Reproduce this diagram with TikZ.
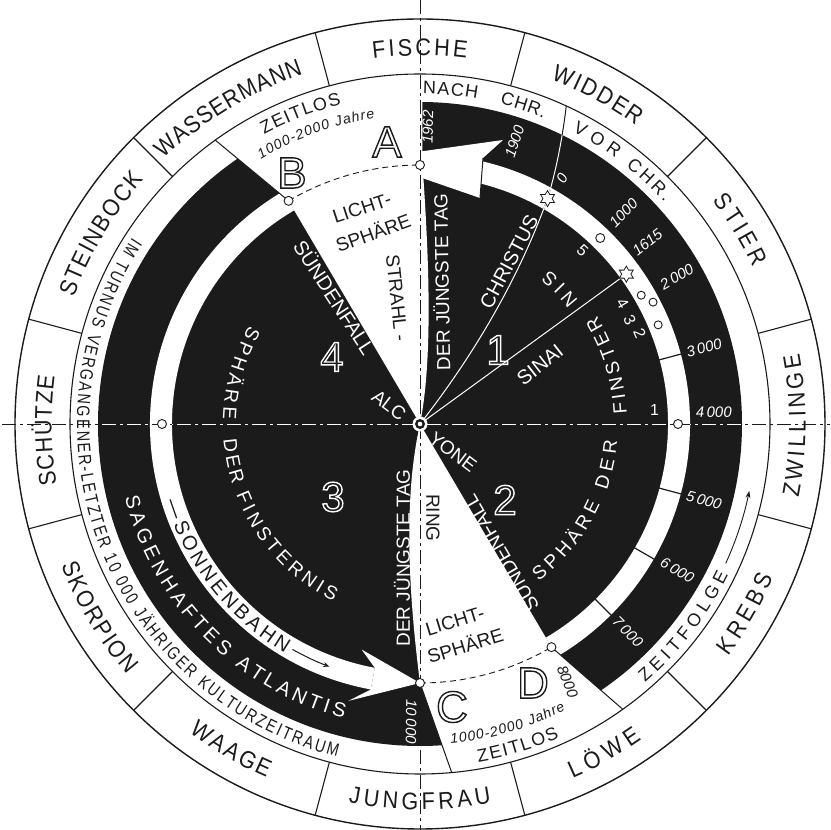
\documentclass[tikz,border=0pt]{standalone}
\usepackage{fontspec}
\setmainfont{Liberation Sans}
\newfontfamily\condfont{Liberation Sans}[FakeStretch=0.8]
\newfontfamily\zodfont{Liberation Sans}[FakeStretch=0.9]
\usetikzlibrary{decorations.text,shapes.geometric,arrows.meta}
\definecolor{ink}{HTML}{1B1B1B}
\newcommand\outl[1]{\special{pdf:literal direct 1 Tr 1.4 w}#1\special{pdf:literal direct 0 Tr}}
\newcommand\arctext[5]{\path[decorate,decoration={text along path,text align={fit to path},text={|#1|#2}}] (#3:#5) arc[start angle=#3,end angle=#4,radius=#5];}
\newcommand\zodf{\zodfont\fontsize{24}{24}\selectfont\color{ink}}
\newcommand\ringf{\fontsize{18}{18}\selectfont\color{ink}}
\newcommand\longf{\condfont\fontsize{18}{18}\selectfont\color{ink}}
\newcommand\darkf{\fontsize{20}{20}\selectfont\color{white}}
\newcommand\bandf{\fontsize{20}{20}\selectfont\color{ink}}
\newcommand\innerwf{\fontsize{19}{19}\selectfont\color{white}}
\newcommand\jahref{\itshape\fontsize{14}{14}\selectfont\color{ink}}
\tikzset{
  markc/.style={circle,draw=ink,fill=white,line width=0.9pt,minimum size=9pt,inner sep=0pt},
  hexstar/.style={star,star points=6,star point ratio=1.732,draw=ink,fill=white,line width=0.8pt,minimum size=16pt,inner sep=0pt},
  axisline/.style={line width=0.9pt,dash pattern=on 14pt off 4pt on 3pt off 4pt},
  wtxt/.style={text=white,font=\fontsize{19}{19}\selectfont,inner sep=0pt},
  btxt/.style={text=ink,font=\fontsize{19}{19}\selectfont,inner sep=0pt},
  datetxt/.style={text=white,font=\itshape\fontsize{15}{15}\selectfont,inner sep=0pt},
  numtxt/.style={text=white,font=\fontsize{16}{16}\selectfont,inner sep=0pt},
  bigletter/.style={text=ink,font=\fontsize{44}{44}\selectfont,inner sep=0pt},
  bignum/.style={text=white,font=\fontsize{42}{42}\selectfont,inner sep=0pt},
  edgeline/.style={draw=ink,line width=1pt},
}
\begin{document}
\begin{tikzpicture}[x=1pt,y=1pt]
\useasboundingbox (0,0) rectangle (831,830);
\fill[white] (0,0) rectangle (831,830);
\begin{scope}[shift={(420,406)}]
\coordinate (O) at (0,0);
\coordinate (A) at (90:259);
\coordinate (B) at (120.5:259);
\coordinate (C) at (270:259);
\coordinate (D) at (-59.5:259);
\coordinate (PA) at (89.6:350);
\coordinate (PB) at (125.8:350);
\coordinate (PC) at (-84.8:350);
\coordinate (PD) at (-54.6:350);
\coordinate (Aedge) at (2.5,259);
\coordinate (Xs) at (60.5:259);
\coordinate (Ss) at (36:255);
\coordinate (Xe) at (65.3:350);
% dark disk
\fill[ink] (O) circle (322);
% light spheres
\fill[white] (O) -- (B) -- (PB) arc[start angle=125.8,end angle=89.6,radius=350] -- (Aedge) .. controls (8,180) and (14,70) .. (O) -- cycle;
\fill[white] (O) .. controls (-18,-80) and (-10,-180) .. (C) -- (PC) arc[start angle=-84.8,end angle=-54.6,radius=350] -- (PD) -- (D) -- cycle;
% sun path bands
\fill[white] (120.5:248) arc[start angle=120.5,end angle=259.5,radius=248] -- (259.5:270) arc[start angle=259.5,end angle=120.5,radius=270] -- cycle;
\fill[white] (-59.5:248) arc[start angle=-59.5,end angle=76.7,radius=248] -- (76.7:270) arc[start angle=76.7,end angle=-59.5,radius=270] -- cycle;
% arrow heads
\coordinate (Atip) at (-53,265);
\coordinate (Aub) at (83,284);
\coordinate (Anotch) at (63,266);
\coordinate (Alb) at (60,226);
\fill[white] (Atip) -- (Aub) -- (Anotch) -- (Alb) -- cycle;
\draw[ink,line width=1pt] (Anotch) -- (Alb);
\coordinate (Cub) at (255.5:233);
\coordinate (Clb) at (255.5:286);
\coordinate (Cin) at (259.5:248);
\coordinate (Cout) at (259.5:270);
\fill[white] (Cin) -- (Cub) -- (C) -- (Clb) -- (Cout) -- cycle;
% boundary lines
\draw[edgeline] (B) -- (PB);
\draw[edgeline] (C) -- (PC);
\draw[edgeline] (D) -- (PD);
% Christus curve
\draw[ink,line width=1pt] (O) .. controls (53.6,68.6) and (98.2,144.2) .. (Xs) .. controls (136.6,254.3) and (143,290) .. (Xe);
\begin{scope}
\clip (O) circle (322);
\draw[white,line width=1pt] (O) .. controls (53.6,68.6) and (98.2,144.2) .. (Xs) .. controls (136.6,254.3) and (143,290) .. (Xe);
\end{scope}
% Sinai
\draw[white,line width=1pt] (O) -- (Ss);
% axes
\coordinate (VT) at (0,424);
\coordinate (VB) at (0,-406);
\coordinate (HL) at (-418,0);
\coordinate (HR) at (410,0);
\draw[ink,axisline] (VT) -- (VB);
\draw[ink,axisline] (HL) -- (HR);
\begin{scope}
\clip (O) circle (248);
\draw[white,axisline] (HL) -- (HR);
\end{scope}
\begin{scope}
\clip (322,0) arc[start angle=0,end angle=360,radius=322] -- (270,0) arc[start angle=360,end angle=0,radius=270] -- cycle;
\draw[white,axisline] (HL) -- (HR);
\end{scope}
% dashed arcs
\draw[ink,line width=0.9pt,dash pattern=on 6pt off 4pt] (B) arc[start angle=120.5,end angle=90,radius=259];
\draw[ink,line width=0.9pt,dash pattern=on 6pt off 4pt] (C) arc[start angle=270,end angle=300.5,radius=259];
% ticks
\foreach \a in {15,-15,-30,-45} \draw[ink,line width=1.2pt] (\a:247) -- (\a:271);
% zodiac ring
\draw[ink,line width=1.4pt] (O) circle (405);
\draw[ink,line width=1.1pt] (O) circle (350);
\foreach \a in {15,45,...,345} \draw[ink,line width=1.1pt] (\a:350) -- (\a:405);
% markers
\node[markc] (mA) at (A) {};
\node[markc] (mB) at (B) {};
\node[markc] (mC) at (C) {};
\node[markc] (mD) at (D) {};
\node[markc] (mL) at (180:258) {};
\node[markc] (mR) at (0:258) {};
\node[markc] (m5) at (45.9:259) {};
\node[markc,minimum size=8pt] (m4) at (30.2:256) {};
\node[markc,minimum size=8pt] (m3) at (27.6:263) {};
\node[markc,minimum size=8pt] (m2) at (22.6:258) {};
\node[hexstar] (sX) at (Xs) {};
\node[hexstar] (sS) at (Ss) {};
% centre
\fill[white] (O) circle (7.5);
\fill[ink] (O) circle (5);
\fill[white] (O) circle (2.3);
% zodiac labels
\arctext{\zodf}{FISCHE}{97.3}{82.7}{368.4}
\arctext{\zodf}{WIDDER}{69.2}{54}{368.4}
\arctext{\zodf}{STIER}{37.4}{25.1}{368.4}
\arctext{\zodf}{ZWILLINGE}{-11}{10.5}{385.6}
\arctext{\zodf}{KREBS}{-37}{-23.4}{385.6}
\arctext{\zodf}{LÖWE}{-66.7}{-54.9}{385.6}
\arctext{\zodf}{JUNGFRAU}{-100.7}{-79.3}{385.6}
\arctext{\zodf}{WAAGE}{233.2}{246.6}{385.6}
\arctext{\zodf}{SKORPION}{201.5}{220.6}{385.6}
\arctext{\zodf}{SCHÜTZE}{189.5}{172.5}{368.4}
\arctext{\zodf}{STEINBOCK}{160}{138.5}{368.4}
\arctext{\zodf}{WASSERMANN}{134}{108.5}{368.4}
% ring texts
\arctext{\ringf}{NACH}{89.5}{80}{330}
\arctext{\ringf}{CHR.}{76}{68}{330}
\arctext{\ringf}{VOR}{62.5}{53.6}{330}
\arctext{\ringf}{CHR.}{51.4}{42.2}{330}
\arctext{\ringf}{ZEITLOS}{118.3}{103.8}{329}
\arctext{\ringf}{ZEITLOS}{-80.2}{-66}{343}
\arctext{\ringf}{ZEITFOLGE}{-49}{-26}{343}
\draw[ink,line width=0.9pt,-{Stealth[length=7pt,width=5pt]}] (-24.5:336) arc[start angle=-24.5,end angle=-11.5,radius=336];
\arctext{\longf}{IM TURNUS VERGANGENER-LETZTER 10 000 JÄHRIGER KULTURZEITRAUM}{147}{256}{343}
\arctext{\jahref}{1000-2000 Jahre}{121}{98.4}{309}
\arctext{\jahref}{1000-2000 Jahre}{-84.5}{-63}{321}
% dark band / sun path texts
\arctext{\darkf}{SAGENHAFTES}{194}{230}{304}
\arctext{\darkf}{ATLANTIS}{232.5}{255.5}{304}
\arctext{\bandf}{—SONNENBAHN}{197}{239.5}{266}
\draw[ink,line width=1pt,-{Stealth[length=6pt,width=5pt]}] (240.5:259) arc[start angle=240.5,end angle=249.5,radius=259];
% inner curved texts
\arctext{\innerwf}{SPHÄRE}{-53}{-24}{197}
\arctext{\innerwf}{DER}{-19.5}{-5}{198}
\arctext{\innerwf}{FINSTER}{3}{31.5}{207}
\arctext{\innerwf}{NIS}{38}{50}{201}
\arctext{\innerwf}{SPHÄRE}{150}{178.5}{197}
\arctext{\innerwf}{DER}{184.5}{198}{197}
\arctext{\innerwf}{FINSTERNIS}{201}{244}{197}
% straight inner texts
\node[btxt,rotate=18] (tLicht1) at (-58,216) {LICHT-};
\node[btxt,rotate=20] (tSph1) at (-47,192) {SPHÄRE};
\node[btxt,rotate=-84] (tStrahl) at (-23,126) {STRAHL -};
\node[wtxt,rotate=91] (tJT1) at (21,142) {DER JÜNGSTE TAG};
\node[wtxt,rotate=62,font=\fontsize{20}{20}\selectfont] (tChr) at (89,162) {CHRISTUS};
\node[wtxt,rotate=38,font=\fontsize{20}{20}\selectfont] (tSinai) at (120,59) {SINAI};
\node[wtxt,rotate=-57,font=\fontsize{20}{20}\selectfont] (tSF1) at (-85,127) {SÜNDENFALL};
\node[wtxt,rotate=120,font=\fontsize{20}{20}\selectfont] (tSF2) at (80,-130) {SÜNDENFALL};
\node[wtxt,rotate=-37] (tAlc) at (-31,19) {ALC};
\node[wtxt,rotate=-37] (tYone) at (33,-28) {YONE};
\node[btxt,rotate=-90] (tRing) at (13,-94) {RING};
\node[wtxt,rotate=90] (tJT2) at (-18,-134) {DER JÜNGSTE TAG};
\node[btxt,rotate=17] (tLicht2) at (35,-197) {LICHT-};
\node[btxt,rotate=17] (tSph2) at (45,-221) {SPHÄRE};
% letters and numbers
\node[bigletter] (lA) at (-33,282) {\outl{A}};
\node[bigletter] (lB) at (-128,251) {\outl{B}};
\node[bigletter] (lC) at (32,-283) {\outl{C}};
\node[bigletter] (lD) at (113,-259) {\outl{D}};
\node[bignum] (n1) at (78,74) {\outl{1}};
\node[bignum] (n2) at (85,-76) {\outl{2}};
\node[bignum] (n3) at (-87,-73) {\outl{3}};
\node[bignum] (n4) at (-88,67) {\outl{4}};
% dates
\node[datetxt,rotate=89] (d1962) at (88.5:297) {1962};
\node[datetxt,rotate=72] (d1900) at (71.5:298) {1900};
\node[datetxt,rotate=60] (d0) at (60:284) {0};
\node[datetxt,rotate=46] (d1000) at (46:293) {1000};
\node[datetxt,rotate=38.6] (d1615) at (38.6:291) {1615};
\node[datetxt,rotate=30] (d2000) at (29.8:296) {2\,000};
\node[datetxt,rotate=15] (d3000) at (15:294) {3\,000};
\node[datetxt,rotate=2] (d4000) at (2.3:294) {4\,000};
\node[datetxt,rotate=-15] (d5000) at (-15:294) {5\,000};
\node[datetxt,rotate=-30] (d6000) at (-29.6:296) {6\,000};
\node[datetxt,rotate=-45] (d7000) at (-45:294) {7\,000};
\node[datetxt,text=ink,rotate=-68] (d8000) at (-60.2:297) {8000};
\node[datetxt,rotate=-91] (d10000) at (-91.7:298) {10\,000};
% small numbers
\node[numtxt] (k1) at (3.4:235) {1};
\node[numtxt,rotate=-67] (k2) at (22.5:238) {2};
\node[numtxt,rotate=-64] (k3) at (26.3:234) {3};
\node[numtxt,rotate=-59] (k4) at (30.8:236) {4};
\node[numtxt,rotate=-43] (k5) at (46.9:238) {5};
\end{scope}
\end{tikzpicture}
\end{document}
